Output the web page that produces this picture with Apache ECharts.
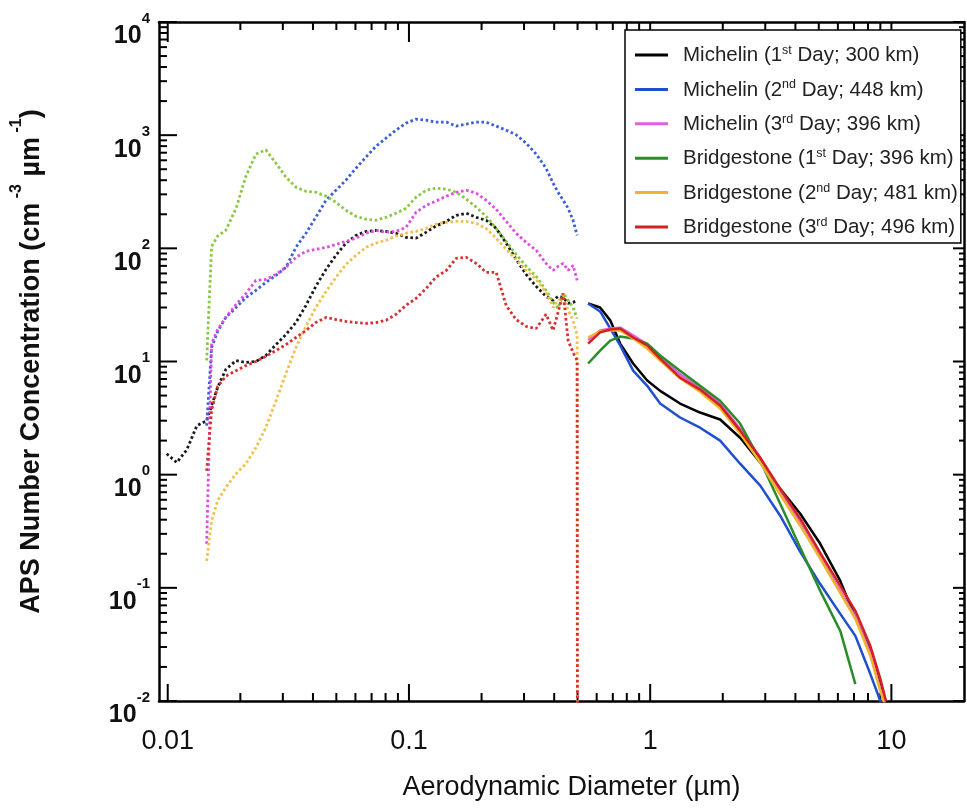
<!DOCTYPE html>
<html>
<head>
<meta charset="utf-8">
<script src="https://cdn.jsdelivr.net/npm/echarts@6.0.0/dist/echarts.min.js"></script>
<style>
  html, body { margin: 0; padding: 0; background: #fff; }
  #chart { width: 967px; height: 810px; }
</style>
</head>
<body>
<div id="chart"></div>
<script>
// legend names (the ordinal suffix is drawn as a superscript)
const seriesNames = [
  'Michelin (1st Day; 300 km)',
  'Michelin (2nd Day; 448 km)',
  'Michelin (3rd Day; 396 km)',
  'Bridgestone (1st Day; 396 km)',
  'Bridgestone (2nd Day; 481 km)',
  'Bridgestone (3rd Day; 496 km)'
];
const apsColors = ['#000000', '#1f4fd0', '#e060e0', '#2a8c2a', '#f0b429', '#d42020'];
const smpsColors = ['#1a1a1a', '#3a5fd8', '#e04ce0', '#88c840', '#f2c04a', '#d83030'];

// small diameters (dotted part), µm
const smpsDiam = [0.0099, 0.0109, 0.0120, 0.0132, 0.0145, 0.0152, 0.0161, 0.0174, 0.0192, 0.0211,
  0.0232, 0.0255, 0.0281, 0.0309, 0.0340, 0.0374, 0.0411, 0.0453, 0.0498, 0.0548,
  0.0603, 0.0663, 0.0730, 0.0803, 0.0883, 0.0972, 0.107, 0.118, 0.129, 0.143,
  0.157, 0.173, 0.190, 0.209, 0.230, 0.253, 0.278, 0.306, 0.337, 0.370,
  0.396, 0.415, 0.436, 0.457, 0.479, 0.498, 0.5];
const smpsMich1 = [1.53, 1.28, 1.66, 2.71, 3.0, 4.08, 5.9, 8.5, 10.2, 9.8,
  10.0, 11.3, 14.1, 17.3, 22.1, 31.3, 46.1, 65.2, 86.7, 111,
  130, 141, 144, 141, 136, 125, 123, 139, 157, 173,
  196, 204, 188, 177, 150, 111, 80, 58.9, 46.1, 37.6,
  34.7, 37.6, 36.8, 32.6, 33.3, 34.7, null];
const smpsMich2 = [null, null, null, null, 2.71, 13.3, 18.4, 24.5, 30.0, 36.8,
  42.5, 50.0, 57.7, 67.9, 102, 136, 188, 266, 326, 400,
  510, 639, 799, 940, 1107, 1277, 1386, 1358, 1303, 1303,
  1202, 1251, 1303, 1303, 1202, 1107, 1009, 850, 679, 510,
  376, 313, 266, 226, 177, 130, null];
const smpsMich3 = [null, null, null, null, 0.245, 14.4, 19.2, 24.5, 31.9, 40.0,
  52.1, 53.2, 58.9, 67.9, 83.2, 94, 98, 102, 108, 115,
  123, 136, 144, 139, 141, 153, 208, 240, 261, 289,
  313, 326, 307, 266, 221, 173, 136, 113, 96, 73.6,
  63.9, 69.3, 73.6, 63.9, 70.7, 52.1, null];
const smpsBrid1 = [null, null, null, null, 10.2, 104, 128, 144, 226, 434,
  680, 740, 565, 425, 347, 319, 313, 289, 255, 217,
  192, 181, 177, 188, 204, 226, 283, 326, 340, 333,
  313, 272, 231, 192, 150, 115, 88.5, 69.3, 56.5, 42.5,
  33.3, 29.4, 40.0, 34.7, 30.0, 24.0, null];
const smpsBrid2 = [null, null, null, null, 0.173, 0.39, 0.59, 0.77, 1.02, 1.25,
  1.73, 2.6, 4.5, 7.8, 13.3, 20.4, 30.0, 41.6, 55.4, 72.1,
  86.7, 102, 111, 118, 128, 136, 141, 150, 163, 170,
  173, 173, 166, 150, 123, 98, 80, 63.9, 53.2, 40.8,
  30.0, 34.7, 36.8, 28.3, 23.1, 17.0, 0.0001];
const smpsBrid3 = [null, null, null, null, 1.08, 3.7, 6.0, 7.4, 8.3, 9.2,
  10.0, 11.1, 12.5, 14.1, 16.3, 18.8, 22.1, 24.5, 23.5, 22.6,
  22.1, 21.7, 22.1, 23.1, 26.1, 31.3, 36.1, 44.3, 55.4, 63.9,
  81.6, 83.2, 73.6, 61.3, 61.3, 31.3, 23.5, 20.4, 19.6, 26.1,
  18.8, 27.2, 40.0, 15.3, 12.0, 10.2, 0.0001];

// large diameters (solid part), µm
const apsDiam = [0.553, 0.62, 0.683, 0.751, 0.85, 0.972, 1.10, 1.33, 1.61, 1.95,
  2.36, 2.86, 3.46, 4.19, 5.07, 6.14, 7.09, 8.18, 9.0, 9.5];
const apsMich1 = [32.6, 30.0, 23.1, 14.4, 9.6, 6.8, 5.5, 4.25, 3.54, 3.07,
  2.12, 1.28, 0.75, 0.452, 0.245, 0.115, 0.0543, 0.0277, 0.0136, 0.008];
const apsMich2 = [32.6, 27.7, 19.6, 13.9, 8.3, 6.1, 4.25, 3.2, 2.6, 2.0,
  1.25, 0.80, 0.434, 0.208, 0.108, 0.0589, 0.0376, 0.0173, 0.0100, 0.006];
const apsMich3 = [15.5, 18.8, 19.6, 19.9, 17.0, 14.1, 11.1, 7.7, 5.9, 4.25,
  2.55, 1.41, 0.72, 0.376, 0.188, 0.094, 0.0554, 0.0266, 0.0128, 0.009];
const apsBrid1 = [9.6, 12.5, 15.3, 16.6, 16.0, 14.4, 11.3, 8.3, 6.1, 4.5,
  2.83, 1.33, 0.553, 0.226, 0.094, 0.0416, 0.0141, null, null, null];
const apsBrid2 = [16.3, 18.4, 18.8, 18.8, 16.0, 13.0, 10.2, 7.1, 5.4, 3.84,
  2.31, 1.28, 0.665, 0.354, 0.181, 0.090, 0.0532, 0.0250, 0.0122, 0.0085];
const apsBrid3 = [14.4, 18.1, 19.2, 19.6, 16.3, 13.9, 10.6, 7.2, 5.65, 4.08,
  2.45, 1.41, 0.75, 0.408, 0.204, 0.104, 0.0626, 0.0307, 0.0157, 0.010];

const xTickLabels = ['0.01', '0.1', '1', '10'];
const xMin = 0.0092, xMax = 20, yMin = 0.01, yMax = 10000;

const smpsValues = [smpsMich1, smpsMich2, smpsMich3, smpsBrid1, smpsBrid2, smpsBrid3];
const apsValues = [apsMich1, apsMich2, apsMich3, apsBrid1, apsBrid2, apsBrid3];

function pairs(xs, ys) {
  return xs.map((x, i) => [x, ys[i] == null ? '-' : ys[i]]);
}

// tick positions for the framed log-log box
const xTicks = [], yTicks = [];
[0.01, 0.1, 1, 10].forEach(d => {
  for (let m = 1; m <= 9; m++) {
    const v = +(m * d).toPrecision(3);
    if (v > xMin && v < xMax - 0.01) xTicks.push([v, m === 1 ? 1 : 0]);
  }
});
[0.01, 0.1, 1, 10, 100, 1000, 10000].forEach(d => {
  for (let m = 1; m <= 9; m++) {
    const v = +(m * d).toPrecision(3);
    if (v >= yMin && v <= yMax) yTicks.push([xMin * 2, v, m === 1 ? 1 : 0]);
  }
});

const isDecade = v => Math.abs(Math.log10(v) - Math.round(Math.log10(v))) < 1e-6;
const font = 'Liberation Sans, Arial, sans-serif';

const series = [];
seriesNames.forEach((name, i) => {
  series.push({
    name: name,
    type: 'line',
    data: pairs(apsDiam, apsValues[i]),
    showSymbol: false,
    itemStyle: { color: apsColors[i] },
    lineStyle: { color: apsColors[i], width: 2.5 },
    animation: false
  });
});
seriesNames.forEach((name, i) => {
  series.push({
    name: name,
    type: 'line',
    data: pairs(smpsDiam, smpsValues[i]),
    showSymbol: false,
    itemStyle: { color: apsColors[i] },
    lineStyle: { color: smpsColors[i], width: 2.8, type: [2.6, 2.6] },
    animation: false
  });
});

// inside ticks on bottom / top
series.push({
  type: 'custom',
  silent: true,
  data: xTicks.map(t => [t[0], 1, t[1]]),
  renderItem: function (params, api) {
    const v = api.value(0);
    const major = api.value(2);
    const b = api.coord([v, yMin]);
    const t = api.coord([v, yMax]);
    const st = { stroke: '#000', lineWidth: 2 };
    return {
      type: 'group',
      children: [
        { type: 'line', shape: { x1: b[0], y1: b[1], x2: b[0], y2: b[1] - (major ? 17 : 8) }, style: st },
        { type: 'line', shape: { x1: t[0], y1: t[1], x2: t[0], y2: t[1] + (major ? 20 : 8) }, style: st }
      ]
    };
  },
  animation: false
});
// inside ticks on left / right
series.push({
  type: 'custom',
  silent: true,
  data: yTicks,
  renderItem: function (params, api) {
    const v = api.value(1);
    const major = api.value(2);
    const l = api.coord([xMin, v]);
    const r = api.coord([xMax, v]);
    const st = { stroke: '#000', lineWidth: 2 };
    return {
      type: 'group',
      children: [
        { type: 'line', shape: { x1: l[0], y1: l[1], x2: l[0] + (major ? 18 : 8), y2: l[1] }, style: st },
        { type: 'line', shape: { x1: r[0], y1: r[1], x2: r[0] - (major ? 11 : 5), y2: r[1] }, style: st }
      ]
    };
  },
  animation: false
});

const axisLine = { show: true, onZero: false, lineStyle: { color: '#000', width: 2.5 } };

const option = {
  backgroundColor: '#fff',
  animation: false,
  grid: { left: 159, right: 3, top: 22, bottom: 109 },
  legend: {
    orient: 'vertical',
    left: 625,
    top: 30,
    padding: [14, 3, 5, 10],
    itemGap: 12.4,
    itemWidth: 33,
    itemHeight: 3,
    icon: 'rect',
    borderColor: '#000',
    borderWidth: 1.5,
    backgroundColor: '#fff',
    selectedMode: false,
    data: seriesNames,
    formatter: function (name) {
      const m = name.match(/^(.*\(\d)(st|nd|rd)(.*)$/);
      return '{t|' + m[1] + '}{s|' + m[2] + '}{t|' + m[3] + '}';
    },
    textStyle: {
      padding: [0, 0, 0, 10],
      rich: {
        t: { fontFamily: font, fontSize: 20.5, color: '#222', lineHeight: 22, verticalAlign: 'bottom' },
        s: { fontFamily: font, fontSize: 12.5, color: '#222', lineHeight: 22, verticalAlign: 'top' }
      }
    }
  },
  xAxis: [{
    type: 'log',
    min: xMin,
    max: xMax,
    position: 'bottom',
    axisLine: axisLine,
    axisTick: { show: false },
    splitLine: { show: false },
    minorTick: { show: false },
    axisLabel: {
      margin: 27,
      fontFamily: font,
      fontSize: 27,
      color: '#111',
      showMinLabel: false,
      showMaxLabel: false,
      formatter: function (v) {
        if (!isDecade(v)) return '';
        const k = Math.round(Math.log10(v)) + 2;
        return xTickLabels[k] || '';
      }
    },
    name: 'Aerodynamic Diameter (µm)',
    nameLocation: 'middle',
    nameGap: 73,
    nameTextStyle: { fontFamily: font, fontSize: 27, color: '#111', padding: [0, 0, 0, 20] }
  }, {
    type: 'log',
    min: xMin,
    max: xMax,
    position: 'top',
    axisLine: axisLine,
    axisTick: { show: false },
    axisLabel: { show: false },
    splitLine: { show: false }
  }],
  yAxis: [{
    type: 'log',
    min: yMin,
    max: yMax,
    position: 'left',
    axisLine: axisLine,
    axisTick: { show: false },
    splitLine: { show: false },
    axisLabel: {
      margin: 9,
      padding: [16, 0, 0, 0],
      formatter: function (v) {
        if (!isDecade(v)) return '';
        return '{b|10}{e|' + Math.round(Math.log10(v)) + '}';
      },
      rich: {
        b: { fontFamily: font, fontSize: 25, fontWeight: 'bold', color: '#111', lineHeight: 38, verticalAlign: 'bottom' },
        e: { fontFamily: font, fontSize: 15, fontWeight: 'bold', color: '#111', lineHeight: 38, verticalAlign: 'top' }
      }
    },
    name: '{t|APS Number Concentration (cm}{s| -3}{t| µm}{s| -1}{t|)}',
    nameLocation: 'middle',
    nameRotate: 90,
    nameGap: 114,
    nameTextStyle: {
      rich: {
        t: { fontFamily: font, fontSize: 27, fontWeight: 'bold', color: '#111', lineHeight: 36, verticalAlign: 'bottom' },
        s: { fontFamily: font, fontSize: 16, fontWeight: 'bold', color: '#111', lineHeight: 36, verticalAlign: 'top' }
      }
    }
  }, {
    type: 'log',
    min: yMin,
    max: yMax,
    position: 'right',
    axisLine: axisLine,
    axisTick: { show: false },
    axisLabel: { show: false },
    splitLine: { show: false }
  }],
  series: series
};

const myChart = echarts.init(document.getElementById('chart'), null, { renderer: 'canvas' });
myChart.setOption(option);
window.addEventListener('resize', function () {
  myChart.resize();
});
</script>
</body>
</html>
